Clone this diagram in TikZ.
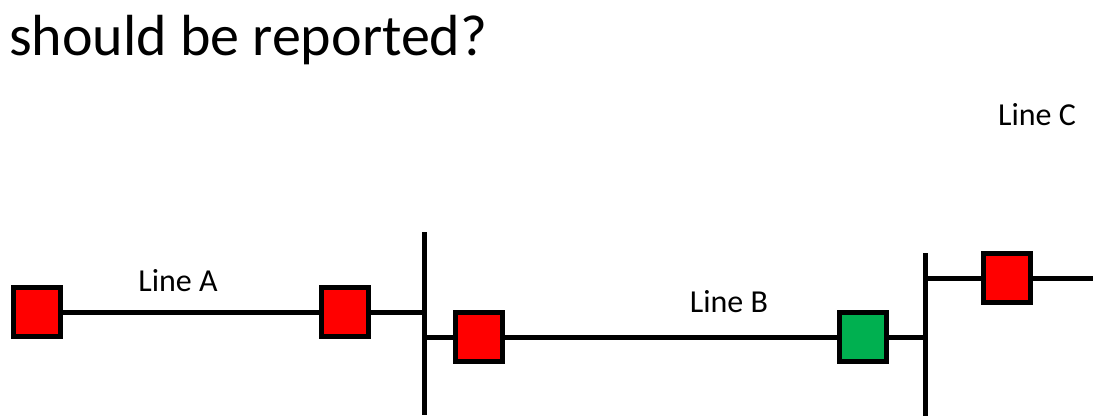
\documentclass[tikz,border=0pt]{standalone}
\usepackage{fontspec}
\setmainfont{Carlito}
\definecolor{brkred}{HTML}{FF0000}
\definecolor{brkgreen}{HTML}{00B050}
\begin{document}
\begin{tikzpicture}[x=1pt,y=-1pt,
  wire/.style={line width=5pt},
  breaker/.style={draw=black,line width=5pt,minimum width=47pt,minimum height=49pt,inner sep=0pt},
  lbl/.style={inner sep=0pt,font=\fontsize{32}{36}\selectfont}
]
\useasboundingbox (0,0) rectangle (1093,418);
% title
\node[inner sep=0pt,anchor=base west,font=\fontsize{58}{64}\selectfont] (title) at (9,55) {should be reported?};
% breakers
\node[breaker,fill=brkred] (b1) at (37,312) {};
\node[breaker,fill=brkred] (b2) at (345,312) {};
\node[breaker,fill=brkred] (b3) at (479,337) {};
\node[breaker,fill=brkgreen] (b4) at (863,337) {};
\node[breaker,fill=brkred] (b5) at (1007,278) {};
% buses
\coordinate (bus1top) at (424,232);
\coordinate (bus1bot) at (424,415);
\coordinate (bus1a) at (424,312);
\coordinate (bus1b) at (424,337);
\coordinate (bus2top) at (925,253);
\coordinate (bus2bot) at (925,416);
\coordinate (bus2a) at (925,337);
\coordinate (bus2b) at (925,278);
\coordinate (lineCend) at (1093,278);
\draw[wire] (bus1top) -- (bus1bot);
\draw[wire] (bus2top) -- (bus2bot);
% lines
\draw[wire] (b1.east) -- (b2.west);
\draw[wire] (b2.east) -- (bus1a);
\draw[wire] (bus1b) -- (b3.west);
\draw[wire] (b3.east) -- (b4.west);
\draw[wire] (b4.east) -- (bus2a);
\draw[wire] (bus2b) -- (b5.west);
\draw[wire] (b5.east) -- (lineCend);
% labels
\node[lbl,anchor=base] (la) at (178,291) {Line A};
\node[lbl,anchor=base] (lb) at (729,312) {Line B};
\node[lbl,anchor=base] (lc) at (1037,125) {Line C};
\end{tikzpicture}
\end{document}
